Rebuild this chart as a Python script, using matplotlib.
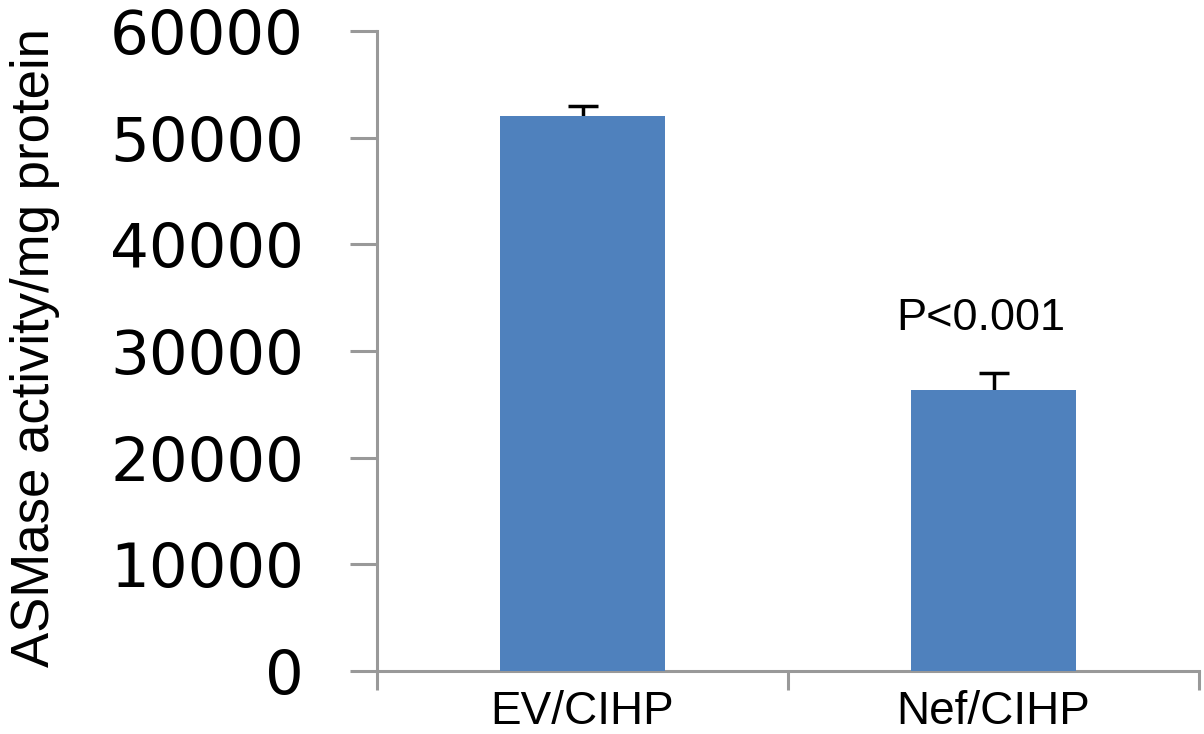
import numpy as np
from matplotlib import pyplot as plt

groups = ['EV/CIHP', 'Nef/CIHP']
activity = [52000, 26300]
err_up = [950, 1650]
p_label = 'P<0.001'

bar_col = '#4F81BD'
axis_col = '#999999'

fig = plt.figure(figsize=(12.04, 7.34), dpi=100)
ax = fig.add_axes([377/1204, 63/734, 822/1204, 640/734])

x = np.arange(len(groups))
ax.bar(x, activity, width=0.4, color=bar_col, zorder=3)
# symmetric errors, lower half hidden behind the bars
ax.errorbar(x, activity, yerr=err_up, fmt='none',
            ecolor='black', elinewidth=2.5, capsize=11, capthick=2.5, zorder=2)

ax.set_xlim(-0.5, 1.5)
ax.set_ylim(0, 60000)
ax.set_yticks(np.arange(0, 60001, 10000))
ax.set_yticklabels([str(v) for v in range(0, 60001, 10000)],
                   family='DejaVu Sans', fontsize=44)
ax.set_xticks(x)
ax.set_xticklabels(groups, family='Liberation Sans', fontsize=33)
ax.set_xticks([-0.5, 0.5, 1.5], minor=True)

ax.tick_params(axis='x', which='major', length=0, pad=14)
ax.tick_params(axis='x', which='minor', length=14, width=2.2, color=axis_col, direction='out')
ax.tick_params(axis='y', length=19.5, width=2.2, color=axis_col, pad=33)

for s in ['top', 'right']:
    ax.spines[s].set_visible(False)
for s in ['left', 'bottom']:
    ax.spines[s].set_color(axis_col)
    ax.spines[s].set_linewidth(2.2)

fig.text(35/1204, 1 - 348/734, 'ASMase activity/mg protein', rotation=90,
         ha='center', va='center', family='Liberation Sans', fontsize=38)

ax.text(0.97, 33000, p_label, ha='center', va='center',
        family='Liberation Sans', fontsize=32.5)

plt.savefig('out.png', dpi=100)
